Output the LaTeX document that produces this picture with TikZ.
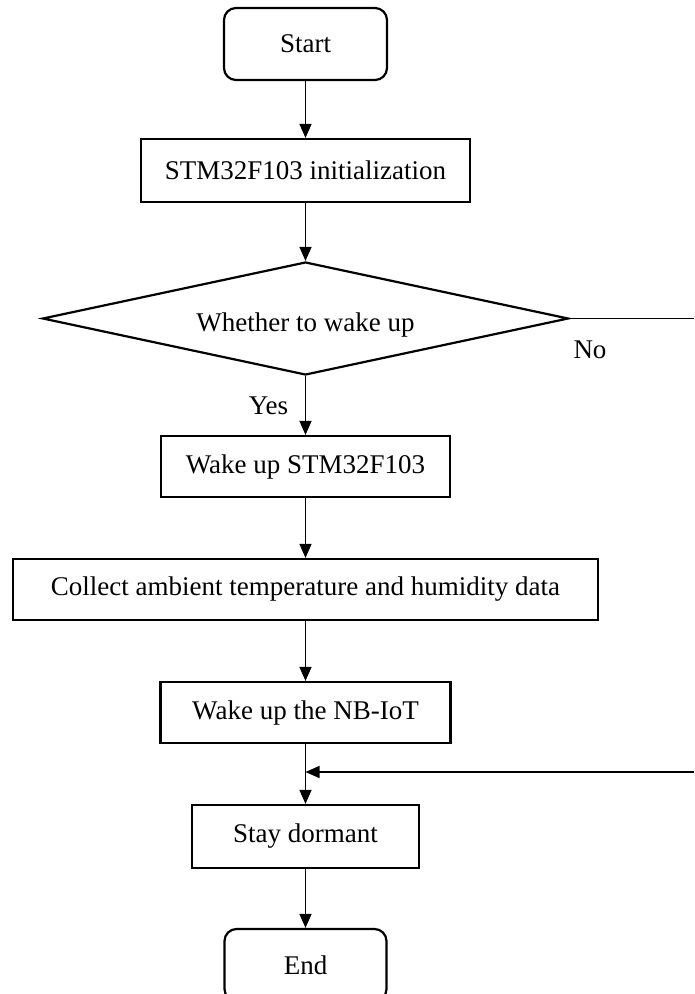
\documentclass[tikz,border=0pt]{standalone}
\usepackage{fontspec}
\setmainfont{Liberation Serif}
\usetikzlibrary{arrows.meta,shapes.geometric}
\begin{document}
\begin{tikzpicture}[x=1pt,y=-1pt,
  txt/.style={font=\fontsize{27}{31}\selectfont},
  box/.style={draw, line width=2.2pt, rectangle, inner sep=0pt, txt},
  term/.style={box, rounded corners=12pt},
  decision/.style={draw, line width=2.2pt, diamond, aspect=4.65, inner sep=0pt, txt, text height=25pt, text depth=0pt},
  line/.style={line width=1.3pt},
  conn/.style={line, -{Triangle[length=14pt,width=12pt]}},
  lbl/.style={txt, inner sep=0pt}
]
\useasboundingbox (0,0) rectangle (694,994);
\clip (0,0) rectangle (694,994);

\node[term, minimum width=163pt, minimum height=72pt] (start) at (305.5,44) {Start};
\node[box, minimum width=329pt, minimum height=63pt] (init) at (305.5,170.5) {STM32F103 initialization};
\node[decision, minimum width=526pt, minimum height=113pt] (dec) at (305.5,318.5) {Whether to wake up};
\node[box, minimum width=289pt, minimum height=61pt] (wake) at (305.5,466.5) {Wake up STM32F103};
\node[box, minimum width=585pt, minimum height=61pt] (collect) at (305.5,589.5) {Collect ambient temperature and humidity data};
\node[box, minimum width=290pt, minimum height=61pt] (nb) at (305.5,712.5) {Wake up the NB-IoT};
\node[box, minimum width=227pt, minimum height=63pt] (stay) at (305.5,836.5) {Stay dormant};
\node[term, minimum width=162pt, minimum height=72pt] (end) at (305.5,965) {End};

\node[lbl] (yes) at (268.5,405.5) {Yes};
\node[lbl] (no) at (590,350) {No};

\coordinate (r1) at (694,318.5);
\coordinate (r2) at (694,772);
\coordinate (fb) at (305.5,772);

\draw[conn] (start) -- (init);
\draw[conn] (init) -- (dec);
\draw[conn] (dec) -- (wake);
\draw[conn] (wake) -- (collect);
\draw[conn] (collect) -- (nb);
\draw[conn] (nb) -- (stay);
\draw[conn] (stay) -- (end);
\draw[line] (dec.east) -- (r1);
\draw[conn] (r2) -- (fb);
\end{tikzpicture}
\end{document}
